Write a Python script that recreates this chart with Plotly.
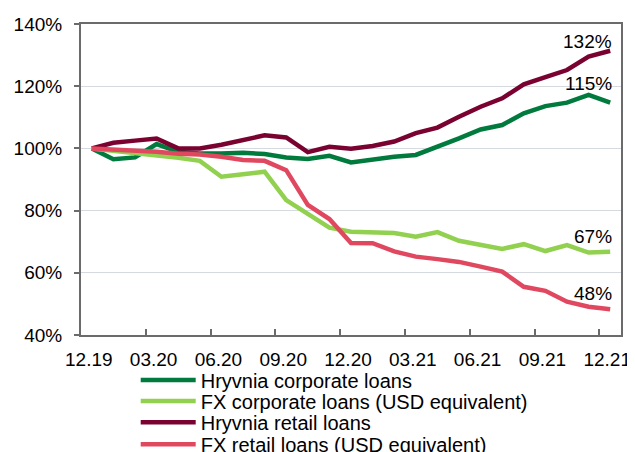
import plotly.graph_objects as go

months = ["12.19", "01.20", "02.20", "03.20", "04.20", "05.20", "06.20", "07.20", "08.20",
          "09.20", "10.20", "11.20", "12.20", "01.21", "02.21", "03.21", "04.21", "05.21",
          "06.21", "07.21", "08.21", "09.21", "10.21", "11.21", "12.21"]

hryvnia_corporate = [100, 96.5, 97.1, 101.4, 98.9, 98.4, 98.4, 98.6, 98.2, 97.1, 96.6, 97.6, 95.5,
                     96.5, 97.3, 97.9, 100.5, 103.2, 106.1, 107.5, 111.3, 113.6, 114.7, 117.2, 114.7]
fx_corporate = [100, 99.3, 98.4, 97.7, 97.0, 96.0, 90.9, 91.7, 92.5, 83.4, 79.1, 74.5, 73.2,
                72.9, 72.8, 71.6, 73.1, 70.3, 68.9, 67.7, 69.2, 67.0, 68.9, 66.5, 66.8]
hryvnia_retail = [100, 101.8, 102.5, 103.2, 100.0, 100.0, 101.2, 102.6, 104.2, 103.5, 98.8, 100.5, 99.9,
                  100.8, 102.2, 104.9, 106.7, 110.2, 113.4, 116.1, 120.6, 122.9, 125.2, 129.5, 131.4]
fx_retail = [100, 99.7, 99.3, 98.9, 98.3, 98.0, 97.3, 96.3, 96.0, 93.0, 81.8, 77.3, 69.6,
             69.5, 66.9, 65.2, 64.4, 63.5, 62.0, 60.4, 55.5, 54.2, 50.7, 49.1, 48.3]

series_names = ["Hryvnia corporate loans", "FX corporate loans (USD equivalent)",
                "Hryvnia retail loans", "FX retail loans (USD equivalent)"]
series_values = [hryvnia_corporate, fx_corporate, hryvnia_retail, fx_retail]
series_colors = ["#007A3D", "#92D050", "#7A0230", "#E0485F"]
end_labels = ["115%", "67%", "132%", "48%"]
end_label_shift = [7, 2.5, -3, 3]

y_ticks = [40, 60, 80, 100, 120, 140]
y_tick_labels = ["40%", "60%", "80%", "100%", "120%", "140%"]
x_tick_labels = months[::3]

FONT = "Liberation Sans, Arial, sans-serif"
x_idx = list(range(len(months)))

fig = go.Figure()
legend_ids = ["legend", "legend2", "legend3", "legend4"]
for name, vals, col, lg in zip(series_names, series_values, series_colors, legend_ids):
    fig.add_trace(go.Scatter(x=x_idx, y=vals, mode="lines", name=name,
                             line=dict(color=col, width=4.5), legend=lg))

for vals, lab, sh in zip(series_values, end_labels, end_label_shift):
    fig.add_annotation(x=x_idx[-1], y=vals[-1], text=lab, showarrow=False,
                       xanchor="right", yanchor="bottom", xshift=4, yshift=sh,
                       font=dict(family=FONT, size=19, color="#000000"))

legend_common = dict(orientation="v", x=0.1013, xanchor="left", yanchor="middle",
                     bgcolor="rgba(0,0,0,0)", font=dict(family=FONT, size=20, color="#000000"),
                     itemwidth=55)
legend_ys = [-0.1447, -0.2122, -0.2807, -0.3514]
layout_legends = {}
for lg, ly in zip(legend_ids, legend_ys):
    layout_legends[lg] = dict(legend_common, y=ly)

fig.update_layout(
    width=635, height=452,
    margin=dict(l=73, r=22, t=16, b=125, autoexpand=False),
    paper_bgcolor="white", plot_bgcolor="white",
    font=dict(family=FONT, size=19, color="#000000"),
    showlegend=True,
    **layout_legends,
)

fig.update_xaxes(
    range=[-0.5, 24.5], tickmode="array", tickvals=x_idx[::3], ticktext=x_tick_labels,
    ticks="", showgrid=False, zeroline=False, ticklabelstandoff=6, ticklabelshift=-3,
    ticklabeloverflow="allow",
    showline=True, linecolor="#6B6B6B", linewidth=2, mirror=True,
    tickfont=dict(family=FONT, size=19, color="#000000"),
    minor=dict(tickmode="array", tickvals=[v + 2.5 for v in x_idx[::3][:-1]],
               ticks="inside", ticklen=6, tickwidth=1.5, tickcolor="#6B6B6B", showgrid=False),
)
fig.update_yaxes(
    range=[40, 140], tickmode="array", tickvals=y_ticks, ticktext=y_tick_labels,
    ticks="outside", ticklen=5, tickwidth=1.5, tickcolor="#6B6B6B", ticklabelstandoff=8,
    showgrid=True, gridcolor="#D5DAE0", gridwidth=1, zeroline=False,
    showline=True, linecolor="#6B6B6B", linewidth=2, mirror=True,
    tickfont=dict(family=FONT, size=19, color="#000000"),
)

fig.write_html("out.html")
